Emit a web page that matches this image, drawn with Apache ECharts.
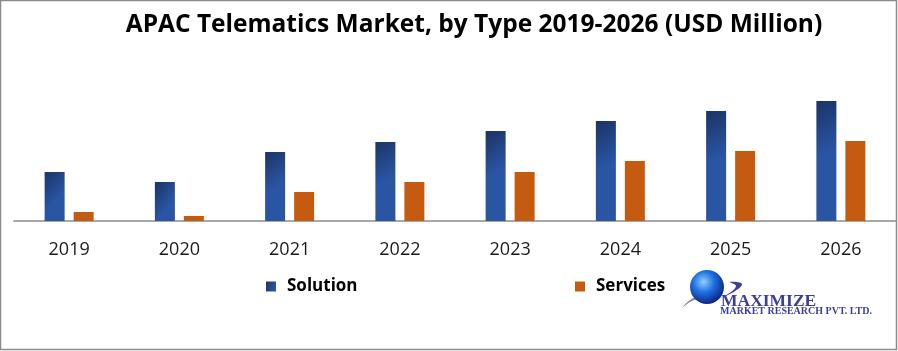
<!DOCTYPE html>
<html>
<head>
<meta charset="utf-8">
<script src="https://cdn.jsdelivr.net/npm/echarts@6/dist/echarts.min.js"></script>
<style>
  html, body { margin: 0; padding: 0; background: #fff; }
  #chart { width: 898px; height: 351px; }
</style>
</head>
<body>
<div id="chart"></div>
<script>
// values (relative bar heights)
const years = ['2019', '2020', '2021', '2022', '2023', '2024', '2025', '2026'];
const solution = [49, 39, 69, 79, 90, 100, 110, 120];
const services = [9, 5, 29, 39, 49, 60, 70, 80];

const chart = echarts.init(document.getElementById('chart'));

const solutionColor = new echarts.graphic.LinearGradient(0, 0, 1, 0.4, [
    { offset: 0, color: '#1b3465' },
    { offset: 1, color: '#2a55a3' }
]);

const legendText = { fontFamily: 'Open Sans', fontWeight: 'bold', fontSize: 17, color: '#000', padding: [0, 0, 0, 6] };

const option = {
    animation: false,
    title: {
        text: 'APAC Telematics Market, by Type 2019-2026 (USD Million)',
        left: 469,
        textAlign: 'center',
        top: 8,
        textStyle: {
            fontFamily: 'Open Sans',
            fontWeight: 'bold',
            fontSize: 24.5,
            color: '#000'
        }
    },
    legend: [
        {
            data: ['Solution'],
            left: 266,
            top: 278,
            padding: 0,
            icon: 'rect',
            itemWidth: 10,
            itemHeight: 10,
            textStyle: legendText
        },
        {
            data: ['Services'],
            left: 575,
            top: 278,
            padding: 0,
            icon: 'rect',
            itemWidth: 10,
            itemHeight: 10,
            textStyle: legendText
        }
    ],
    grid: {
        left: 14,
        right: 2,
        top: 21,
        height: 200
    },
    xAxis: {
        type: 'category',
        data: years,
        axisLine: { lineStyle: { color: '#8c8c8c', width: 1.5 } },
        axisTick: { show: false },
        axisLabel: {
            margin: 20,
            fontFamily: 'Open Sans',
            fontSize: 18,
            color: '#1a1a1a'
        }
    },
    yAxis: {
        type: 'value',
        min: 0,
        max: 200,
        show: false
    },
    series: [
        {
            name: 'Solution',
            type: 'bar',
            data: solution,
            barWidth: 20,
            barGap: '45%',
            itemStyle: { color: solutionColor }
        },
        {
            name: 'Services',
            type: 'bar',
            data: services,
            barWidth: 20,
            itemStyle: { color: '#c55a11' }
        }
    ],
    graphic: [
        // frame
        {
            type: 'rect',
            shape: { x: 0.5, y: 0.5, width: 896, height: 349 },
            style: { fill: 'none', stroke: '#8a8a8a', lineWidth: 1.5 },
            silent: true
        },
        // logo swoosh (grey part)
        {
            type: 'polygon',
            shape: { points: [[682, 308], [690, 300], [703, 295], [716, 297], [702, 298], [690, 302]], smooth: 0.4 },
            style: { fill: '#8e8e8e' },
            silent: true
        },
        // logo swoosh (purple part)
        {
            type: 'polygon',
            shape: { points: [[714, 300], [732, 293], [742, 284], [730, 282], [736, 286], [728, 294]], smooth: 0.4 },
            style: { fill: '#3b3f98' },
            silent: true
        },
        // globe
        {
            type: 'circle',
            shape: { cx: 707, cy: 287, r: 17 },
            style: {
                fill: new echarts.graphic.RadialGradient(0.4, 0.35, 0.7, [
                    { offset: 0, color: '#8fd0ff' },
                    { offset: 0.45, color: '#1f6fe0' },
                    { offset: 1, color: '#0a1d7a' }
                ])
            },
            silent: true
        },
        {
            type: 'text',
            left: 721,
            top: 292,
            style: {
                text: 'MAXIMIZE',
                font: 'bold 17.5px "Liberation Serif"',
                fill: '#3b3f98'
            },
            silent: true
        },
        {
            type: 'text',
            left: 720,
            top: 306,
            style: {
                text: 'MARKET RESEARCH PVT. LTD.',
                font: 'bold 10px "Liberation Serif"',
                fill: '#3b3f98'
            },
            silent: true
        }
    ]
};

chart.setOption(option);
</script>
</body>
</html>
